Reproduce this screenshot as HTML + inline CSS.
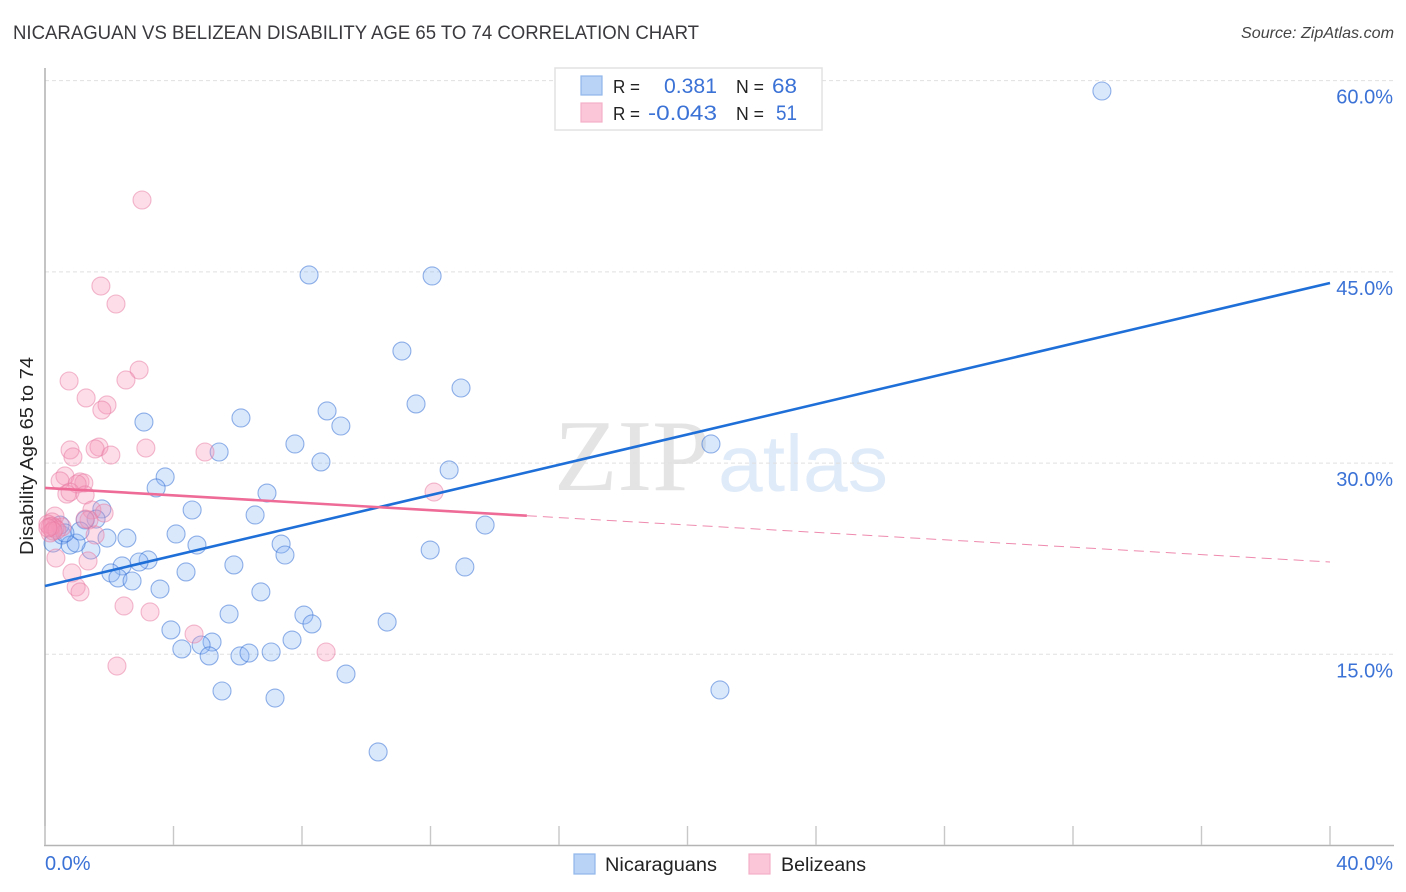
<!DOCTYPE html>
<html lang="en">
<head>
<meta charset="utf-8">
<title>Nicaraguan vs Belizean Disability Age 65 to 74 Correlation Chart</title>
<style>
html,body{margin:0;padding:0;background:#fff;}
svg{display:block;font-family:"Liberation Sans",sans-serif;}
</style>
</head>
<body>
<svg id="chart" width="1406" height="892" viewBox="0 0 1406 892" xmlns="http://www.w3.org/2000/svg">
  <rect x="0" y="0" width="1406" height="892" fill="#ffffff"/>
  <text x="13" y="39" font-size="19" fill="#3a3a3e" textLength="686" lengthAdjust="spacingAndGlyphs">NICARAGUAN VS BELIZEAN DISABILITY AGE 65 TO 74 CORRELATION CHART</text>
  <text x="1241" y="38" font-size="16" font-style="italic" fill="#444" textLength="153" lengthAdjust="spacingAndGlyphs">Source: ZipAtlas.com</text>

  <g id="watermark">
    <text x="554" y="490" font-family="'Liberation Serif',serif" font-size="102" fill="#e4e4e4" textLength="156" lengthAdjust="spacingAndGlyphs">ZIP</text>
    <text x="718" y="491" font-family="'Liberation Sans',sans-serif" font-size="80" fill="#e0ebf9" textLength="170" lengthAdjust="spacingAndGlyphs">atlas</text>
  </g>

  <g id="grid"></g>
  <g id="axes"></g>
  <g id="blue-points"></g>
  <g id="pink-points"></g>
  <g id="trends"></g>
  <g id="tick-labels"></g>

  <text transform="translate(33,456) rotate(-90)" font-size="18" fill="#222" text-anchor="middle" textLength="198" lengthAdjust="spacingAndGlyphs">Disability Age 65 to 74</text>

  <g>
    <rect x="555" y="68" width="267" height="62" fill="#fff" stroke="#e2e2e2" stroke-width="1.5"/>
    <rect x="581" y="76" width="21" height="19" fill="#b9d3f7" stroke="#8fb6ea" stroke-width="1.2"/>
    <rect x="581" y="103" width="21" height="19" fill="#fbc6d7" stroke="#f3b0c8" stroke-width="1.2"/>
    <text x="613" y="93" font-size="18" fill="#222" textLength="27" lengthAdjust="spacingAndGlyphs">R =</text>
    <text x="664" y="93" font-size="21" fill="#3b72d6" textLength="53" lengthAdjust="spacingAndGlyphs">0.381</text>
    <text x="736" y="93" font-size="18" fill="#222" textLength="28" lengthAdjust="spacingAndGlyphs">N =</text>
    <text x="772" y="93" font-size="21" fill="#3b72d6" textLength="25" lengthAdjust="spacingAndGlyphs">68</text>
    <text x="613" y="120" font-size="18" fill="#222" textLength="27" lengthAdjust="spacingAndGlyphs">R =</text>
    <text x="648" y="120" font-size="21" fill="#3b72d6" textLength="69" lengthAdjust="spacingAndGlyphs">-0.043</text>
    <text x="736" y="120" font-size="18" fill="#222" textLength="28" lengthAdjust="spacingAndGlyphs">N =</text>
    <text x="776" y="120" font-size="21" fill="#3b72d6" textLength="21" lengthAdjust="spacingAndGlyphs">51</text>
  </g>

  <g>
    <rect x="574" y="854" width="21" height="20" fill="#b9d3f7" stroke="#8fb6ea" stroke-width="1.2"/>
    <text x="605" y="871" font-size="19" fill="#222" textLength="112" lengthAdjust="spacingAndGlyphs">Nicaraguans</text>
    <rect x="749" y="854" width="21" height="20" fill="#fbc6d7" stroke="#f3b0c8" stroke-width="1.2"/>
    <text x="781" y="871" font-size="19" fill="#222" textLength="85" lengthAdjust="spacingAndGlyphs">Belizeans</text>
  </g>
</svg>
<script>
const yTicks = [15, 30, 45, 60];
const yTickLabels = ["15.0%", "30.0%", "45.0%", "60.0%"];
const xTicks = [0, 4, 8, 12, 16, 20, 24, 28, 32, 36, 40];
const xEndTicks = [0, 40];
const xEndLabels = ["0.0%", "40.0%"];

const nicaraguansX = [32.90,8.22,12.05,11.11,12.95,11.55,3.08,6.10,8.78,9.21,7.78,5.42,8.59,12.58,20.73,3.74,3.46,6.91,4.58,1.77,6.54,1.59,1.25,13.70,4.08,2.55,1.93,4.73,7.35,11.99,1.43,7.47,3.21,2.93,5.88,2.40,13.07,4.39,2.05,2.27,2.71,3.58,6.72,8.06,5.73,8.31,10.65,3.92,7.69,5.20,4.26,4.86,5.11,6.07,6.35,7.04,9.37,5.51,7.16,21.01,10.37,0.25,0.53,0.78,0.97,1.09,0.47,0.62];
const nicaraguansY = [59.19,44.76,44.68,38.79,35.89,34.64,33.22,33.54,34.09,32.91,31.50,30.87,30.09,29.46,31.50,28.91,28.05,27.65,26.32,26.40,25.93,25.61,25.54,25.14,24.44,24.12,24.12,23.57,23.65,23.18,23.18,22.79,22.40,22.24,22.01,21.93,21.85,21.46,21.38,20.99,20.75,20.12,19.89,18.08,18.16,17.38,17.53,16.91,16.12,15.96,15.42,15.73,14.87,14.87,15.10,15.18,13.45,12.12,11.57,12.20,7.34,23.73,24.36,23.57,23.73,24.67,25.14,24.52];

const belizeansX = [3.02,1.74,2.21,2.93,0.75,2.52,1.28,1.93,1.77,3.14,1.68,1.56,0.78,4.98,2.05,0.87,0.62,0.47,1.09,1.21,1.00,12.11,0.68,0.78,1.25,1.46,1.84,0.31,1.37,0.22,0.09,0.53,1.25,0.16,0.34,1.56,1.34,0.84,0.97,1.09,2.46,3.27,4.64,8.75,2.24,0.22,0.31,0.16,0.37,0.25,0.09];
const belizeansY = [50.64,43.89,42.48,37.30,36.44,36.52,35.11,34.56,34.16,31.18,31.26,31.11,31.03,30.87,30.63,30.48,28.99,28.60,28.52,28.44,28.36,27.73,27.57,27.73,27.50,26.32,26.08,25.85,25.54,25.38,25.22,24.99,25.61,24.52,22.55,24.36,22.32,21.38,20.28,19.89,18.79,18.32,16.59,15.18,14.08,25.06,24.91,24.99,24.75,24.67,24.91];

const nicaraguansTrendX = [0, 40];
const nicaraguansTrendY = [20.36, 44.13];
const belizeansSolidX = [0, 15];
const belizeansSolidY = [28.05, 25.87];
const belizeansDashedX = [15, 40];
const belizeansDashedY = [25.87, 22.24];

const SVGNS = "http://www.w3.org/2000/svg";
function xScale(v) { return 45 + v * 32.125; }
function yScale(v) { return 845.5 - v * 12.747; }
function make(tag, attrs, parent) {
  const el = document.createElementNS(SVGNS, tag);
  for (const k in attrs) el.setAttribute(k, attrs[k]);
  parent.appendChild(el);
  return el;
}

const gridG = document.getElementById("grid");
yTicks.forEach(function (t) {
  const el = make("line", {x1: 45, x2: 1394, y1: yScale(t), y2: yScale(t), stroke: "#e0e0e0", "stroke-width": 1, "stroke-dasharray": "4 3"}, gridG);
  
  
});

const axesG = document.getElementById("axes");
const yAxis = make("line", {x1: 45, x2: 45, y1: 68, y2: 846, stroke: "#ababab", "stroke-width": 1.4}, axesG);


const xAxis = make("line", {x1: 44, x2: 1394, y1: 845.5, y2: 845.5, stroke: "#b4b4b4", "stroke-width": 1.4}, axesG);


xTicks.forEach(function (t) {
  const el = make("line", {x1: xScale(t), x2: xScale(t), y1: 826, y2: 845, stroke: "#c8c8c8", "stroke-width": 1.4}, axesG);
  
  
});

function drawPoints(group, xs, ys, fill, stroke, name) {
  xs.forEach(function (x, i) {
    const el = make("circle", {cx: xScale(x), cy: yScale(ys[i]), r: 9, fill: fill, stroke: stroke, "stroke-width": 1.1}, group);
    
    
  });
}
drawPoints(document.getElementById("blue-points"), nicaraguansX, nicaraguansY, "rgba(140,185,245,0.32)", "rgba(50,110,210,0.52)", "nicaraguans-point");
drawPoints(document.getElementById("pink-points"), belizeansX, belizeansY, "rgba(246,150,185,0.32)", "rgba(232,120,160,0.50)", "belizeans-point");

const trendsG = document.getElementById("trends");
const blueTrend = make("line", {x1: xScale(nicaraguansTrendX[0]), y1: yScale(nicaraguansTrendY[0]), x2: xScale(nicaraguansTrendX[1]), y2: yScale(nicaraguansTrendY[1]), stroke: "#1f6fd8", "stroke-width": 2.6}, trendsG);


const pinkSolid = make("line", {x1: xScale(belizeansSolidX[0]), y1: yScale(belizeansSolidY[0]), x2: xScale(belizeansSolidX[1]), y2: yScale(belizeansSolidY[1]), stroke: "#ee6a97", "stroke-width": 2.6}, trendsG);


const pinkDashed = make("line", {x1: xScale(belizeansDashedX[0]), y1: yScale(belizeansDashedY[0]), x2: xScale(belizeansDashedX[1]), y2: yScale(belizeansDashedY[1]), stroke: "#ee8aae", "stroke-width": 1, "stroke-dasharray": "10 6"}, trendsG);



const labelsG = document.getElementById("tick-labels");
yTicks.forEach(function (t, i) {
  const el = make("text", {x: 1393, y: yScale(t) + 23, "font-size": 20, fill: "#3b72d6", "text-anchor": "end"}, labelsG);
  el.textContent = yTickLabels[i];
  
  
});
xEndTicks.forEach(function (t, i) {
  const el = make("text", {x: i === 0 ? xScale(t) : 1393, y: 870, "font-size": 20, fill: "#3b72d6", "text-anchor": i === 0 ? "start" : "end"}, labelsG);
  el.textContent = xEndLabels[i];
  
  
});
</script>
</body>
</html>
